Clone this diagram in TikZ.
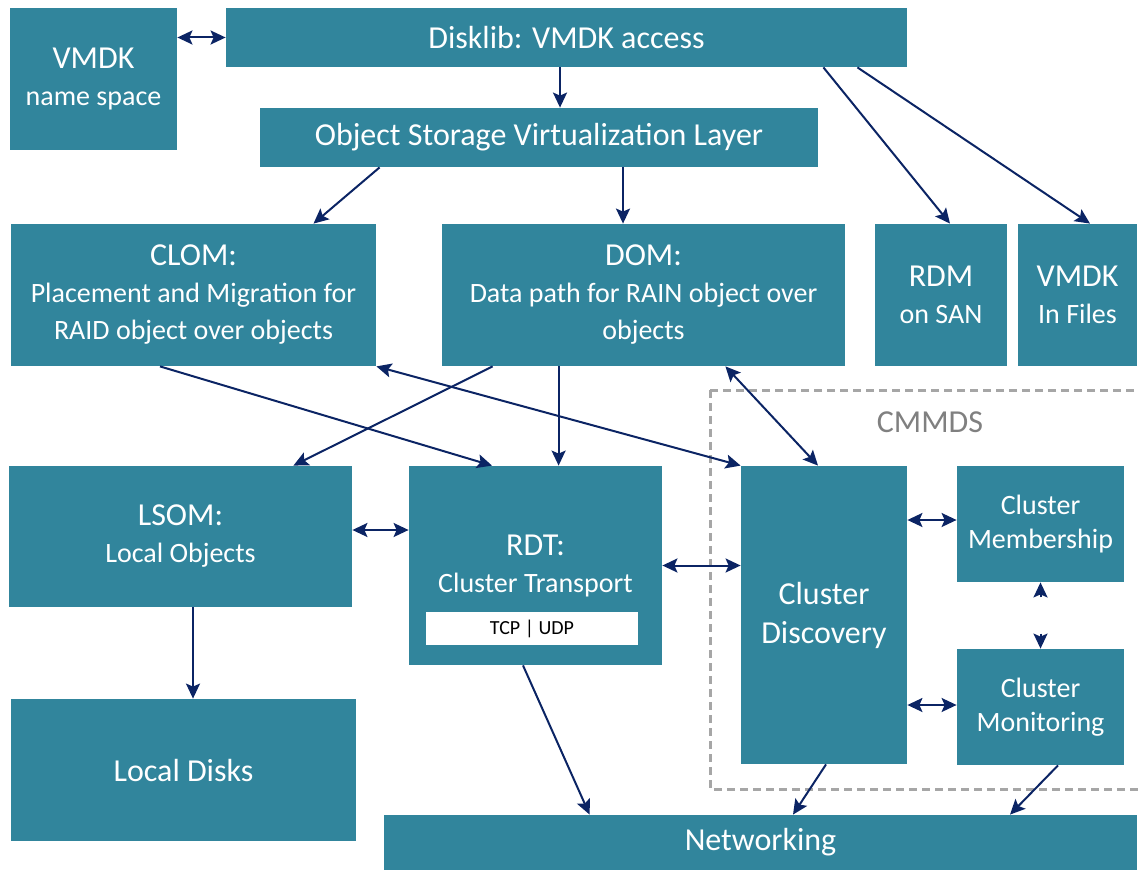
\documentclass[tikz,border=0pt]{standalone}
\usepackage{fontspec}
\setmainfont{Carlito}
\usetikzlibrary{calc,arrows.meta}

\definecolor{vsanteal}{HTML}{31859C}
\definecolor{linknavy}{HTML}{0B2464}
\definecolor{cmmdsgray}{HTML}{A6A6A6}
\newcommand{\headtxt}[1]{{\fontsize{16}{19}\selectfont #1}}

\begin{document}
\begin{tikzpicture}[
    x=0.5pt, y=-0.5pt,
    block/.style={fill=vsanteal, text=white, inner sep=0pt, align=center,
                  font=\fontsize{14}{18.5}\selectfont},
    bigblock/.style={block, font=\fontsize{16}{19.5}\selectfont},
    smallblock/.style={block, font=\fontsize{14}{17}\selectfont},
    sz/.style 2 args={minimum width=#1*0.5pt, minimum height=#2*0.5pt},
    tip/.style={Stealth[length=7.5pt, width=7pt, inset=1.5pt]},
    arr/.style={-{Stealth[length=7.5pt, width=7pt, inset=1.5pt]}, draw=linknavy, line width=1pt},
    arrtwo/.style={{Stealth[length=7.5pt, width=7pt, inset=1.5pt]}-{Stealth[length=7.5pt, width=7pt, inset=1.5pt]},
                   draw=linknavy, line width=1pt},
    group/.style={draw=cmmdsgray, line width=1.5pt, dash pattern=on 4pt off 2.5pt},
]
\useasboundingbox (0,0) rectangle (1138,871);

% CMMDS group frame
\draw[group] (710,390) rectangle (1160,789);
\node[text=gray, font=\fontsize{16}{19}\selectfont] (cmmds) at (930,422) {CMMDS};

% top row
\node[block, sz={167}{142}] (vns) at (93.5,79) {\headtxt{VMDK}\\name space};
\node[bigblock, sz={681}{59}] (disk) at (566.5,37.5) {Disklib: VMDK access};
\node[bigblock, sz={558}{59}] (osvl) at (539,137.5) {Object Storage Virtualization Layer};

% object layers
\node[block, sz={365}{142}] (clom) at (193.5,295)
    {\headtxt{CLOM:}\\Placement and Migration for\\RAID object over objects};
\node[block, sz={403}{142}] (dom) at (643.5,295)
    {\headtxt{DOM:}\\Data path for RAIN object over\\objects};
\node[block, sz={132}{142}] (rdm) at (941,295) {\headtxt{RDM}\\on SAN};
\node[block, sz={119}{142}] (vfiles) at (1077.5,295) {\headtxt{VMDK}\\In Files};

% local side
\node[block, sz={343}{141}] (lsom) at (180.5,536.5) {\headtxt{LSOM:}\\Local Objects};
\node[bigblock, sz={345}{142}] (ldisk) at (183.5,770) {Local Disks};

% transport
\node[block, sz={253}{199}] (rdt) at (535.5,565.5) {};
\node[text=white, align=center, font=\fontsize{14}{18.5}\selectfont] (rdttxt) at (535.5,566)
    {\headtxt{RDT:}\\Cluster Transport};
\node[fill=white, text=black, inner sep=0pt, sz={212}{33}, font=\fontsize{10}{12}\selectfont]
    (tcp) at (532,628.5) {TCP | UDP};

% CMMDS members
\node[bigblock, sz={166}{298}] (disc) at (824,615) {Cluster\\Discovery};
\node[smallblock, sz={167}{116}] (memb) at (1040.5,524) {Cluster\\Membership};
\node[smallblock, sz={167}{116}] (moni) at (1040.5,707) {Cluster\\Monitoring};

\node[bigblock, sz={753}{55}] (net) at (760.5,842.5) {Networking};

% links
\draw[arrtwo] (vns.east |- disk.west) -- (disk.west);
\draw[arr] ([xshift=-3.25pt]disk.south) -- ([xshift=-3.25pt]disk.south |- osvl.north);
\draw[arr] ([xshift=-42pt]disk.south east) -- ([xshift=4.5pt]rdm.north);
\draw[arr] ([xshift=-25pt]disk.south east) -- ([xshift=6.25pt]vfiles.north);
\draw[arr] ([xshift=60pt]osvl.south west) -- ([xshift=60pt]clom.north);
\draw[arr] ([xshift=42pt]osvl.south) -- ([xshift=42pt]osvl.south |- dom.north);

\draw[arr] ([xshift=-16.75pt]clom.south) -- ([xshift=-21.75pt]rdt.north);
\draw[arr] ([xshift=25.5pt]dom.south west) -- ([xshift=-29.5pt]lsom.north east);
\draw[arr] ([xshift=58.5pt]dom.south west) -- ([xshift=58.5pt]dom.south west |- rdt.north);
\draw[arrtwo] (clom.south east) -- (disc.north west);
\draw[arrtwo] ([xshift=-60pt]dom.south east) -- ([xshift=-3pt]disc.north);

\draw[arrtwo] ([yshift=3.25pt]lsom.east) -- ([yshift=3.25pt]lsom.east -| rdt.west);
\draw[arrtwo] (rdt.east) -- (rdt.east -| disc.west);
\draw[arr] ([xshift=6.25pt]lsom.south) -- ([xshift=6.25pt]lsom.south |- ldisk.north);

\draw[arrtwo] ([yshift=2pt]memb.west -| disc.east) -- ([yshift=2pt]memb.west);
\draw[arrtwo] ([yshift=1pt]moni.west -| disc.east) -- ([yshift=1pt]moni.west);
\draw[arr] ([yshift=-7.5pt]memb.south) -- (memb.south);
\draw[arr] ([yshift=7.5pt]moni.north) -- (moni.north);

\draw[arr] ([xshift=-6.25pt]rdt.south) -- ([xshift=103pt]net.north west);
\draw[arr] ([xshift=1pt]disc.south) -- ([xshift=16.25pt]net.north);
\draw[arr] ([xshift=8.75pt]moni.south) -- ([xshift=124.75pt]net.north);

\end{tikzpicture}
\end{document}
